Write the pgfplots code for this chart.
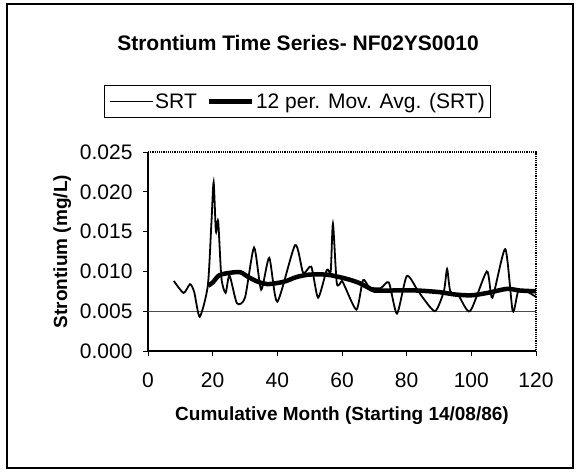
\documentclass[border=0pt]{standalone}
\usepackage{fontspec}
\setmainfont{Liberation Sans}
\usepackage{pgfplots}
\pgfplotsset{compat=1.18}

% Monthly strontium concentrations (mg/L)
\pgfplotstableread{
m v
8 0.0088
11 0.0073
13 0.0084
14.3 0.0074
16 0.0043
18.5 0.0082
19.6 0.0160
20.3 0.0212
21.0 0.0150
21.7 0.0163
22.7 0.0092
24 0.0073
25.2 0.0095
27.5 0.0060
30 0.0067
32.8 0.0130
35 0.0077
37.5 0.0117
40 0.0062
45.5 0.0133
48 0.0098
50.5 0.0106
52.6 0.0067
55.3 0.0102
56.5 0.0100
57.2 0.0160
58.4 0.0085
60 0.0088
61 0.0080
64.5 0.0052
66.5 0.0089
68.5 0.0080
72 0.0079
74.5 0.0086
77 0.0047
80 0.0094
83 0.0079
85 0.0067
88.8 0.0050
91.5 0.0075
92.5 0.0103
93.5 0.0075
96 0.0070
99.6 0.0050
104.8 0.0100
106.5 0.0067
110.5 0.0128
112.8 0.0050
114.5 0.0075
117 0.0075
120 0.0068
}\srt

% 12-period moving average
\pgfplotstableread{
m v
18.6 0.0082
20 0.0086
22 0.0095
25 0.0098
28.5 0.0099
31 0.0093
34 0.0087
37 0.0084
42 0.0087
46 0.0093
50 0.0096
55 0.0096
58 0.0094
62 0.0090
65 0.0086
68 0.0080
70 0.0076
75 0.0076
83 0.0076
90 0.0074
95 0.0071
100 0.0070
105 0.0073
111 0.0078
115 0.0076
120 0.0075
}\mavg

\begin{document}
\begin{tikzpicture}[x=1pt,y=1pt]
\useasboundingbox (0,0) rectangle (580,472);
\draw[line width=1.2pt] (7,4) rectangle (573,468);
\node[font=\fontsize{21}{24}\selectfont\bfseries] at (298,429) {Strontium Time Series- NF02YS0010};
\begin{axis}[
  at={(148pt,121pt)}, anchor=south west,
  width=388pt, height=199pt, scale only axis,
  xmin=0, xmax=120, ymin=0, ymax=0.025,
  xtick={0,20,...,120},
  ytick={0,0.005,...,0.025},
  scaled y ticks=false,
  yticklabel style={xshift=-7pt, /pgf/number format/.cd, fixed, fixed zerofill, precision=3},
  /pgf/number format/assume math mode=true,
  tick label style={font=\fontsize{21}{24}\selectfont},
  xticklabel style={yshift=-13pt},
  tick align=outside, major tick length=5pt,
  tick style={black, line width=0.8pt},
  axis x line*=bottom, axis y line*=left,
  axis line style={line width=1.4pt},
  xlabel={Cumulative Month (Starting 14/08/86)},
  ylabel={Strontium (mg/L)},
  label style={font=\fontsize{19}{22}\selectfont\bfseries},
  xlabel style={yshift=-12pt},
  ylabel style={yshift=2pt},
  legend columns=2,
  legend style={at={(0.386,1.254)}, anchor=center, draw=black, line width=0.8pt,
    font=\fontsize{21}{24}\selectfont, inner xsep=4pt, inner ysep=6pt,
    /tikz/every even column/.append style={column sep=8pt}},
  legend image post style={xscale=2.5},
  clip=false,
]
\draw[black, densely dotted, line width=1.2pt] (axis cs:0,0.025) -- (axis cs:120,0.025) -- (axis cs:120,0);
\draw[gray!60!black, line width=1pt] (axis cs:0,0.005) -- (axis cs:120,0.005);
\addplot[black, line width=1.8pt, smooth, tension=0.4] table[x=m,y=v] {\srt};
\addlegendentry{SRT}
\addplot[black, line width=4.5pt, smooth, tension=0.5] table[x=m,y=v] {\mavg};
\addlegendentry{12 per. Mov. Avg. (SRT)}
\end{axis}
\end{tikzpicture}
\end{document}
